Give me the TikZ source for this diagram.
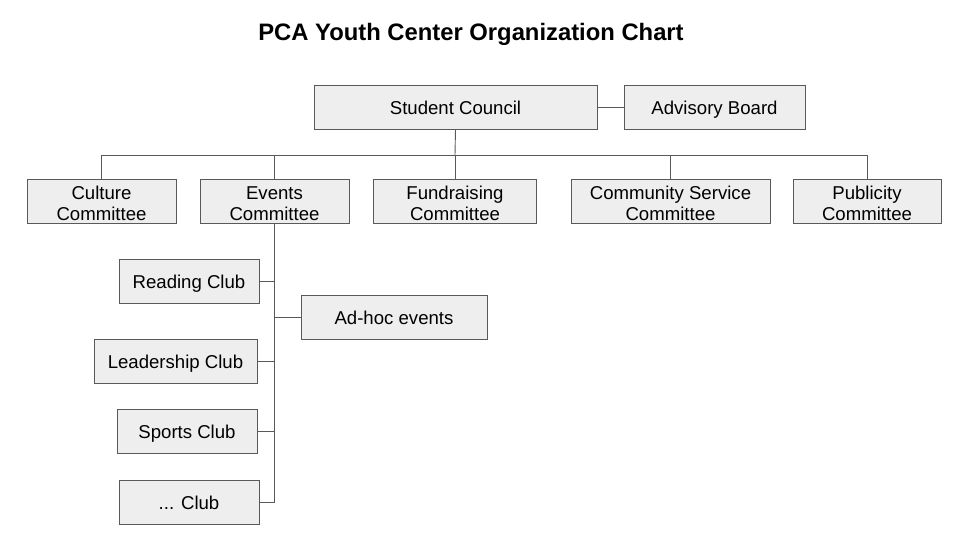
\documentclass[tikz,border=0pt]{standalone}
\usepackage{fontspec}
\setmainfont{Liberation Sans}
\usepackage{tikz}
\usetikzlibrary{positioning}
\definecolor{edge}{HTML}{595959}
\definecolor{boxfill}{HTML}{EEEEEE}

\begin{document}
\begin{tikzpicture}[x=1pt,y=-1pt,
 box/.style={draw=edge,fill=boxfill,align=center,minimum height=44pt,inner sep=0pt,
  font=\fontsize{18.6}{21.7}\selectfont},
 oneline/.style={box,text height=17.3pt,text depth=1.5pt},
 twoline/.style={box,text height=39.4pt,text depth=0pt},
 link/.style={draw=edge,line width=0.9pt}]
\useasboundingbox (0,0) rectangle (960,540);
\node[font=\bfseries\fontsize{23.8}{28}\selectfont] (title) at (471,34) {PCA Youth Center Organization Chart};
% top level
\node[oneline,minimum width=283pt] (council) at (455.5,107) {Student Council};
\node[oneline,minimum width=181pt] (advisory) at (714.5,107) {Advisory Board};
% committees
\node[twoline,minimum width=149pt] (culture) at (101.5,201) {Culture\\Committee};
\node[twoline,minimum width=149pt] (events) at (274.5,201) {Events\\Committee};
\node[twoline,minimum width=163pt] (fund) at (455,201) {Fundraising\\Committee};
\node[twoline,minimum width=199pt] (community) at (670.5,201) {Community Service\\Committee};
\node[twoline,minimum width=148pt] (publicity) at (867,201) {Publicity\\Committee};
% clubs under events
\node[oneline,minimum width=140pt] (reading) at (189,281) {Reading Club};
\node[oneline,minimum width=186pt] (adhoc) at (394,317) {Ad-hoc events};
\node[oneline,minimum width=163pt] (leadership) at (175.5,361) {Leadership Club};
\node[oneline,minimum width=140pt] (sports) at (187,431) {Sports Club};
\node[oneline,minimum width=140pt] (dotclub) at (189,502) {... Club};
\coordinate (bus) at (455,155);
\draw[link] (council) -- (advisory);
\draw[link] (council.south) -- (bus);
\foreach \c in {culture,events,fund,community,publicity}
 \draw[link] (bus) -| (\c.north);
\draw[link] (events.south) |- (dotclub.east);
\foreach \c in {reading,leadership,sports,adhoc}
 \draw[link] (\c) -- (\c -| events.south);
\end{tikzpicture}
\end{document}
